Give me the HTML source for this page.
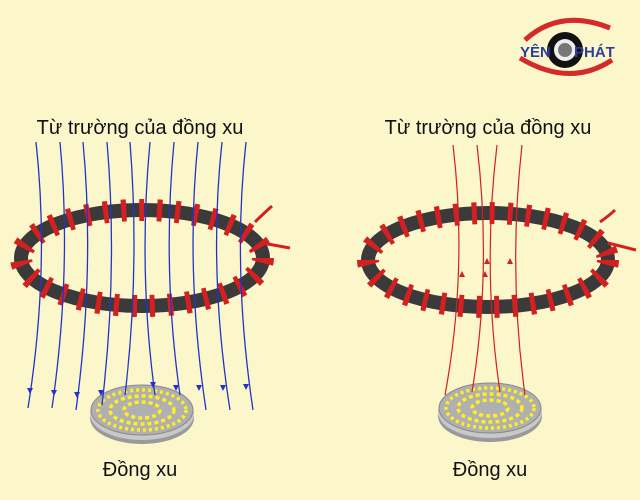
<!DOCTYPE html>
<html><head><meta charset="utf-8"><style>
html,body{margin:0;padding:0;background:#fcf7cb;}
svg{display:block}
text{font-family:"Liberation Sans",sans-serif}
</style></head><body>
<svg width="640" height="500" viewBox="0 0 640 500" xmlns="http://www.w3.org/2000/svg">
<defs>
<g id="coin">
  <ellipse cx="0" cy="8" rx="52" ry="26" fill="#9a9a9a"/>
  <ellipse cx="0" cy="4" rx="52" ry="26" fill="#c8c8c8"/>
  <ellipse cx="0" cy="0" rx="51" ry="25" fill="#b0b0b0" stroke="#888" stroke-width="1"/>
  <ellipse cx="0" cy="0" rx="44" ry="20" fill="none" stroke="#ffee22" stroke-width="3.5" stroke-dasharray="3 3"/>
  <ellipse cx="0" cy="0" rx="32" ry="14" fill="none" stroke="#ffee22" stroke-width="3.5" stroke-dasharray="4 3"/>
  <ellipse cx="0" cy="0" rx="18" ry="8" fill="none" stroke="#ffee22" stroke-width="3.5" stroke-dasharray="4 3"/>
</g>
</defs>
<!-- logo -->
<path d="M525,40 Q560,8 610,28" stroke="#d42a2a" stroke-width="5" fill="none"/>
<path d="M520,58 Q570,88 612,60" stroke="#d42a2a" stroke-width="5" fill="none"/>
<circle cx="565" cy="50" r="18" fill="#111"/><circle cx="565" cy="50" r="11" fill="#eee"/><circle cx="565" cy="50" r="7" fill="#777"/>
<text x="520" y="57" font-size="15" font-weight="bold" fill="#2a3f9c" font-family="Liberation Serif">YÊN</text>
<text x="574" y="57" font-size="15" font-weight="bold" fill="#2a3f9c" font-family="Liberation Serif">PHÁT</text>

<text x="140" y="134" font-size="20" text-anchor="middle" fill="#111">Từ trường của đồng xu</text>
<text x="488" y="134" font-size="20" text-anchor="middle" fill="#111">Từ trường của đồng xu</text>

<!-- coins -->
<use href="#coin" x="142" y="410"/>
<use href="#coin" x="490" y="408"/>

<!-- rings -->
<g fill="none">
<ellipse cx="142" cy="258" rx="121" ry="48" stroke="#3a3a3a" stroke-width="14"/>
<ellipse cx="142" cy="258" rx="121" ry="48" stroke="#d42020" stroke-width="22" stroke-dasharray="5 13"/>
<ellipse cx="488" cy="260" rx="120" ry="47" stroke="#3a3a3a" stroke-width="14"/>
<ellipse cx="488" cy="260" rx="120" ry="47" stroke="#d42020" stroke-width="22" stroke-dasharray="5 13"/>
<path d="M255,222 Q262,215 272,206" stroke="#d42020" stroke-width="3"/>
<path d="M262,243 L290,248" stroke="#d42020" stroke-width="3"/>
<path d="M600,222 Q610,215 615,210" stroke="#d42020" stroke-width="3"/>
<path d="M608,243 L636,250" stroke="#d42020" stroke-width="3"/>
</g>

<!-- blue lines -->
<g stroke="#2233cc" stroke-width="1.3" fill="none">
<path d="M36,142 Q50,270 28,408"/>
<path d="M60,142 Q72,270 52,408"/>
<path d="M83,142 Q95,270 76,410"/>
<path d="M107,142 Q118,270 102,405"/>
<path d="M130,142 Q140,270 125,395"/>
<path d="M150,142 Q138,270 155,395"/>
<path d="M174,142 Q162,270 180,395"/>
<path d="M198,142 Q185,270 206,410"/>
<path d="M222,142 Q208,270 230,410"/>
<path d="M246,142 Q232,270 253,410"/>
</g>
<g fill="#2233cc">
<path d="M27,388 l6,0 l-3,6z"/><path d="M51,390 l6,0 l-3,6z"/><path d="M74,392 l6,0 l-3,6z"/>
<path d="M98,390 l6,0 l-3,6z"/><path d="M150,382 l6,0 l-3,6z"/><path d="M173,385 l6,0 l-3,6z"/>
<path d="M196,385 l6,0 l-3,6z"/><path d="M220,385 l6,0 l-3,6z"/><path d="M243,384 l6,0 l-3,6z"/>
</g>

<!-- red lines -->
<g stroke="#d42020" stroke-width="1.2" fill="none">
<path d="M453,145 Q468,270 445,395"/>
<path d="M477,145 Q492,270 472,392"/>
<path d="M497,145 Q482,270 500,392"/>
<path d="M522,145 Q508,270 525,395"/>
</g>
<g fill="#d42020">
<path d="M459,277 l6,0 l-3,-6z"/><path d="M482,277 l6,0 l-3,-6z"/>
<path d="M484,264 l6,0 l-3,-6z"/><path d="M507,264 l6,0 l-3,-6z"/>
</g>

<text x="140" y="476" font-size="20" text-anchor="middle" fill="#111">Đồng xu</text>
<text x="490" y="476" font-size="20" text-anchor="middle" fill="#111">Đồng xu</text>
</svg>
</body></html>
